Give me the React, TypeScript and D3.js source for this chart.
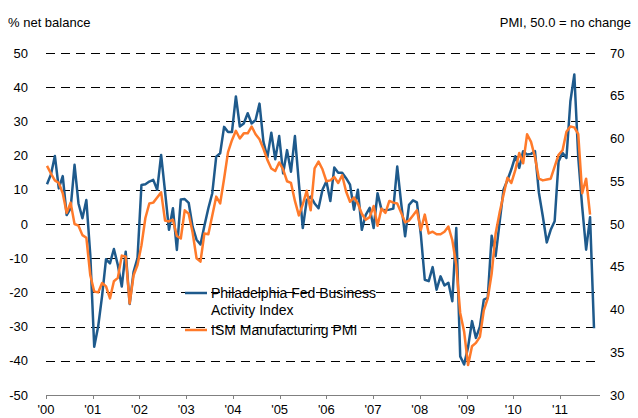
import React from "react";
import * as d3 from "d3";

// Philadelphia Fed Business Activity Index, % net balance, Jan 2000 - Aug 2011 (monthly)
const philly: number[] = [
  11.6, 14.5, 19.9, 10.4, 14, 2.6, 4.6, 17.3, 6, 1.7, 7, -9,
  -35.9, -30, -21, -10.3, -11.5, -7.3, -12, -18.3, -8.1, -23.4, -14, -10,
  11.4, 11.6, 12.4, 12.9, 10, 20.2, 9.5, -1.7, 4.6, -7.6, 7.2, 7.3,
  6.2, -0.8, -4.6, -6, -0.5, 4.6, 9, 19.7, 20.7, 28.4, 26.9, 26.9,
  37.3, 28.5, 29.4, 32.4, 29.4, 30.4, 35.2, 24, 19.5, 26.7, 18.9, 25.7,
  14.8, 21.6, 15.3, 25.7, 12, -1.2, 7, 8, 6, 4.6, 10, 12.5,
  6.7, 16.5, 15, 15, 13.4, 11.5, 4.2, 10, -1.7, 2.7, 4.7, -1.2,
  9, 4.2, 4, 4.2, 4.5, 16.8, 6.1, -3.6, 5.6, 6.9, 6.3, -3.1,
  -16.3, -16.7, -12.6, -19.2, -15.3, -18, -17.2, -22.6, -1.2, -38.7, -41.1, -36,
  -28.4, -33.3, -30, -22.1, -21.6, -3.4, -9.4, 0.3, 10, 12.8, 16, 19.8,
  16.4, 21.3, 20.3, 20.5, 21.3, 9.1, 2.2, -5.4, -1.7, 0.8, 18.3, 20.8,
  19.3, 35.9, 43.7, 19.5, 5, -7.5, 2, -30.5,
];

// ISM Manufacturing PMI, Jan 2000 - Jul 2011 (monthly)
const pmi: number[] = [
  56.8, 55.9, 55.1, 54.8, 53.6, 51.3, 52.5, 50, 49.8, 48.7, 48.4, 44,
  42.1, 42, 43.1, 42.7, 41.3, 43.3, 43.7, 46.3, 46.2, 40.7, 44, 45.2,
  47.5, 50.7, 52.4, 52.5, 53.1, 53.7, 50.4, 50.3, 50.5, 48.6, 48.3, 51.6,
  51.2, 49, 46, 45.6, 48.9, 48.8, 51, 53.2, 52.4, 55.3, 58.4, 59.8,
  60.9, 60, 60.6, 60.6, 61.4, 60.5, 59.9, 58.8, 57.5, 56.5, 56.2, 57.2,
  56.4, 55, 54.8, 52.7, 51, 52.3, 53.9, 51.6, 56.5, 57.3, 56.4, 55,
  55.1, 55.5, 54.8, 55.7, 53.8, 52.6, 53.1, 52.4, 51.2, 50.5, 50.8, 52.1,
  49.8, 51.8, 51.3, 52.7, 52.5, 52.4, 51.3, 50.2, 50.4, 51, 51.6, 49.3,
  51.1, 48.9, 49.1, 48.8, 48.8, 49.1, 49.7, 48.1, 45.2, 39.6, 37.4, 33.5,
  35.7, 36.1, 36.8, 39.9, 41.3, 44.2, 48.9, 51.3, 53.4, 55.4, 54.8, 56.3,
  58.3, 57.1, 60.5, 59.6, 57.8, 55.3, 55.1, 55.2, 55.3, 56.7, 58.1, 58.6,
  60.8, 61.4, 61.3, 60.5, 53.6, 55.3, 51.1,
];

const yearLabels: string[] = ["'00", "'01", "'02", "'03", "'04", "'05", "'06", "'07", "'08", "'09", "'10", "'11"];
const leftTicks: number[] = [50, 40, 30, 20, 10, 0, -10, -20, -30, -40, -50];
const rightTicks: number[] = [70, 65, 60, 55, 50, 45, 40, 35, 30];
const seriesNames: string[][] = [["Philadelphia Fed Business", "Activity Index"], ["ISM Manufacturing PMI"]];

const BLUE = "#1E5A8C";
const ORANGE = "#FF7A2A";
const FONT = "'Liberation Sans', Arial, Helvetica, sans-serif";

export default function App() {
  const W = 638;
  const H = 418;
  const plotL = 46;
  const plotR = 600;
  const x = d3.scaleLinear().domain([0, philly.length - 1]).range([47, 594]);
  const xYear = d3.scaleLinear().domain([0, yearLabels.length - 1]).range([46, 560]);
  const yL = d3.scaleLinear().domain([-50, 50]).range([395, 53]);
  const yR = d3.scaleLinear().domain([30, 70]).range([395, 53]);

  const lineL = d3.line<number>().x((_, i) => x(i)).y((d) => yL(d));
  const lineR = d3.line<number>().x((_, i) => x(i)).y((d) => yR(d));

  return (
    <svg
      width={W}
      height={H}
      style={{ position: "absolute", left: 0, top: 0, background: "#fff" }}
      fontFamily={FONT}
    >
      <text x={8} y={27} fontSize={13} fill="#000">% net balance</text>
      <text x={631} y={27} fontSize={13} fill="#000" textAnchor="end">PMI, 50.0 = no change</text>

      {leftTicks.slice(0, -1).map((t) => (
        <line
          key={"g" + t}
          x1={plotL}
          x2={plotR}
          y1={Math.round(yL(t)) + 0.5}
          y2={Math.round(yL(t)) + 0.5}
          stroke="#000"
          strokeWidth={1}
          strokeDasharray="9,6"
        />
      ))}
      <line x1={plotL} x2={plotR} y1={Math.round(yL(-50)) + 0.5} y2={Math.round(yL(-50)) + 0.5} stroke="#808080" strokeWidth={1} />
      {yearLabels.map((lab, i) => (
        <g key={lab}>
          <line x1={Math.round(xYear(i)) + 0.5} x2={Math.round(xYear(i)) + 0.5} y1={yL(-50)} y2={yL(-50) + 4} stroke="#808080" />
          <text x={xYear(i)} y={yL(-50) + 19} fontSize={13} textAnchor="middle" fill="#000">{lab}</text>
        </g>
      ))}

      {leftTicks.map((t) => (
        <text key={"l" + t} x={28} y={yL(t) + 4.5} fontSize={13} textAnchor="end" fill="#000">{t}</text>
      ))}
      {rightTicks.map((t) => (
        <text key={"r" + t} x={610} y={yR(t) + 4.5} fontSize={13} textAnchor="start" fill="#000">{t}</text>
      ))}

      <path d={lineL(philly) || ""} fill="none" stroke={BLUE} strokeWidth={2.5} strokeLinejoin="round" />
      <path d={lineR(pmi) || ""} fill="none" stroke={ORANGE} strokeWidth={2.5} strokeLinejoin="round" />

      <line x1={185} x2={207} y1={293} y2={293} stroke={BLUE} strokeWidth={2.5} />
      <text x={211} y={298} fontSize={14} fill="#000">{seriesNames[0][0]}</text>
      <text x={211} y={315} fontSize={14} fill="#000">{seriesNames[0][1]}</text>
      <line x1={185} x2={207} y1={330} y2={330} stroke={ORANGE} strokeWidth={2.5} />
      <text x={211} y={335} fontSize={14} fill="#000">{seriesNames[1][0]}</text>
    </svg>
  );
}
